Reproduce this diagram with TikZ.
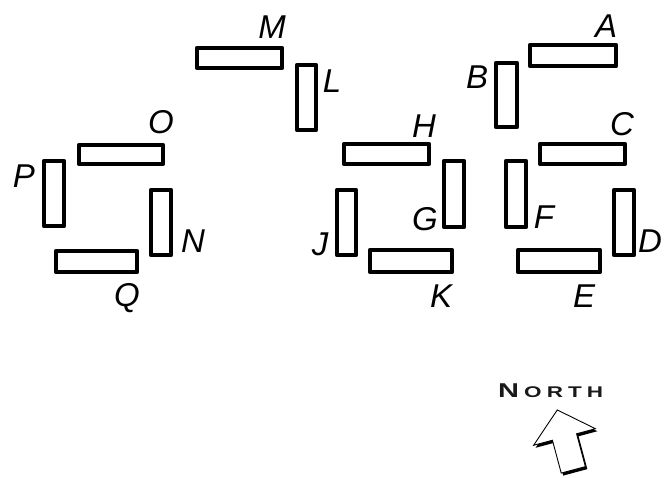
\documentclass[tikz,border=0pt]{standalone}
\usepackage{fontspec}
\setmainfont{Liberation Sans}
\usetikzlibrary{calc}

% wall segment: outer corners (x1,y1) and (x2,y2), stroke kept inside
\newcommand\wallseg[4]{\draw[wall] ($(#1,#2)+(1.8,1.8)$) rectangle ($(#3,#4)-(1.8,1.8)$);}

\begin{document}
\begin{tikzpicture}[x=1pt,y=-1pt,
  wall/.style={line width=3.6pt, draw=black, fill=white, line join=round},
  tag/.style={inner sep=0pt, anchor=base, font=\fontsize{33}{33}\selectfont\itshape},
  compass/.style={line width=0.9pt, line join=miter}]
\useasboundingbox (0,0) rectangle (664,477);

% left cluster
\wallseg{195}{46}{284}{70}
\wallseg{295}{63}{318}{132}
\wallseg{77}{143}{165}{166}
\wallseg{42}{159}{66}{228}
\wallseg{149}{188}{173}{257}
\wallseg{54}{249}{139}{274}
% middle cluster
\wallseg{335}{188}{358}{257}
\wallseg{342}{142}{431}{166}
\wallseg{442}{159}{466}{229}
\wallseg{368}{248}{454}{274}
% right cluster
\wallseg{528}{43}{618}{68}
\wallseg{494}{61}{519}{129}
\wallseg{538}{142}{627}{166}
\wallseg{504}{159}{528}{229}
\wallseg{612}{188}{636}{257}
\wallseg{516}{248}{602}{274}

% labels
\node[tag] (lM) at (272,38) {M};
\node[tag] (lL) at (332,92) {L};
\node[tag] (lO) at (161,133) {O};
\node[tag] (lP) at (24,187) {P};
\node[tag] (lN) at (193,252) {N};
\node[tag] (lQ) at (127,306) {Q};
\node[tag] (lJ) at (320,255) {J};
\node[tag] (lA) at (606,37) {A};
\node[tag] (lB) at (477,88) {B};
\node[tag] (lH) at (424,137) {H};
\node[tag] (lC) at (622,135) {C};
\node[tag] (lG) at (425,230) {G};
\node[tag] (lF) at (544,228) {F};
\node[tag] (lD) at (650,252) {D};
\node[tag] (lK) at (441,307) {K};
\node[tag] (lE) at (584,307) {E};

% compass label
\node[inner sep=0pt, anchor=base west, text=black!90] (north) at (498,397)
  {\scalebox{1.45}[1]{\bfseries\fontsize{20}{20}\selectfont N\kern3.5pt\fontsize{15.5}{15.5}\selectfont O\kern3.5pt R\kern3.5pt T\kern3.5pt H}};

% compass arrow with drop shadow
\begin{scope}[shift={(566.5,439.5)}, rotate=15]
  \fill[black] (0,-28) -- (32,0) -- (12.5,0) -- (12.5,34) -- (-12.5,34) -- (-12.5,0) -- (-32,0) -- cycle;
\end{scope}
\begin{scope}[shift={(564.5,437)}, rotate=15]
  \draw[compass, fill=white] (0,-28) -- (32,0) -- (12.5,0) -- (12.5,34) -- (-12.5,34) -- (-12.5,0) -- (-32,0) -- cycle;
\end{scope}
\end{tikzpicture}
\end{document}
